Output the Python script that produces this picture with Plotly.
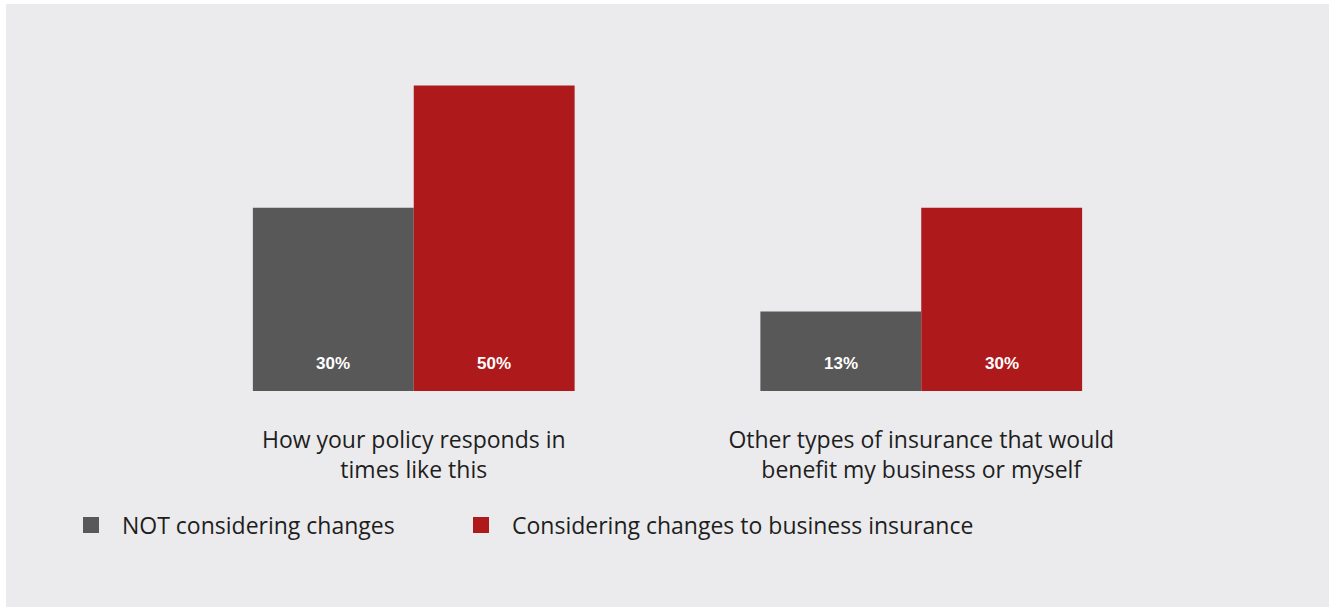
import plotly.graph_objects as go

# Survey categories and shares (%)
categories = [
    "How your policy responds in<br>times like this",
    "Other types of insurance that would<br>benefit my business or myself",
]
series_names = ["NOT considering changes", "Considering changes to business insurance"]
not_considering = [30, 13]
considering = [50, 30]

COLORS = ["#585858", "#ae191c"]
PANEL = "#ebebed"
TEXT = "#1e1e1e"
FONT = "Open Sans, Lato, sans-serif"
W, H = 1337, 607
M = dict(l=160, r=162, t=55, b=216)
BAR_W = 0.317

# pixel -> paper helpers (paper spans the plot area)
pw = W - M["l"] - M["r"]
ph = H - M["t"] - M["b"]
base_px = H - M["b"]


def px_x(px):
    return (px - M["l"]) / pw


def px_y(py):
    return (base_px - py) / ph


x_pos = list(range(len(categories)))
fig = go.Figure()

for vals, name, color, off, leg in [
    (not_considering, series_names[0], COLORS[0], -BAR_W, "legend"),
    (considering, series_names[1], COLORS[1], 0.0, "legend2"),
]:
    fig.add_trace(go.Bar(
        x=x_pos, y=vals, width=BAR_W, offset=off,
        marker=dict(color=color, line=dict(width=0)),
        showlegend=False, hoverinfo="skip",
    ))
    # value labels sit a fixed distance above the baseline
    for xi, v in zip(x_pos, vals):
        fig.add_annotation(
            x=xi + off + BAR_W / 2, y=0, xref="x", yref="y",
            text=f"<b>{v}%</b>", showarrow=False, yanchor="middle", yshift=28,
            font=dict(family="Liberation Sans, Arial, sans-serif", size=17, color="white"),
        )
    # legend proxy with a larger square swatch
    fig.add_trace(go.Scatter(
        x=[None], y=[None], mode="markers", name=name, legend=leg,
        marker=dict(symbol="square", size=16, color=color),
    ))

# light grey panel behind everything
fig.add_shape(
    type="rect", xref="paper", yref="paper", layer="below",
    x0=px_x(6), x1=px_x(1329), y0=px_y(607), y1=px_y(4),
    fillcolor=PANEL, line=dict(width=0),
)

legend_style = dict(
    orientation="h", xanchor="left", y=px_y(525), yanchor="middle",
    font=dict(family=FONT, size=23, color=TEXT), bgcolor="rgba(0,0,0,0)",
    itemwidth=52,
)

fig.update_layout(
    width=W, height=H, margin=M,
    paper_bgcolor="white", plot_bgcolor="rgba(0,0,0,0)",
    barmode="overlay",
    font=dict(family=FONT, size=23, color=TEXT),
    xaxis=dict(
        range=[-0.5, 1.5], tickvals=x_pos, ticktext=categories,
        showgrid=False, zeroline=False, showline=False, ticks="",
        ticklabelstandoff=33, tickfont=dict(family=FONT, size=23, color=TEXT),
        fixedrange=True,
    ),
    yaxis=dict(range=[0, 55], visible=False, fixedrange=True),
    legend=dict(x=px_x(60), **legend_style),
    legend2=dict(x=px_x(450), **legend_style),
    showlegend=True,
)

fig.write_html("out.html")
